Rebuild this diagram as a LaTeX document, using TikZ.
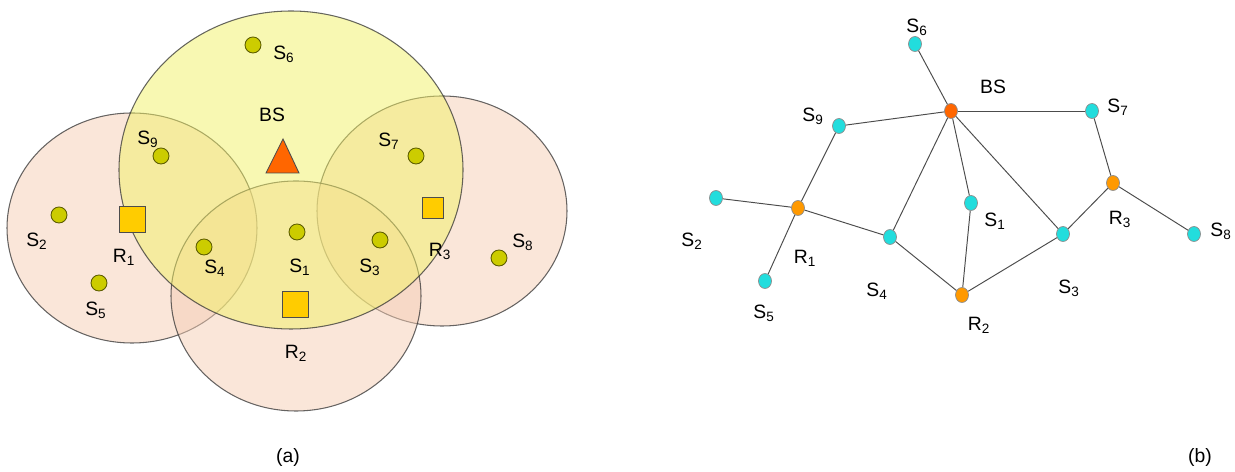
\documentclass[tikz,border=0pt]{standalone}
\usepackage{fontspec}
\setmainfont{Liberation Sans}
\usetikzlibrary{shapes.geometric}
\definecolor{peach}{RGB}{245,205,180}
\definecolor{lemon}{RGB}{241,241,101}
\definecolor{olivedot}{RGB}{204,204,0}
\definecolor{gold}{RGB}{255,204,0}
\definecolor{bsorange}{RGB}{255,102,0}
\definecolor{relayorange}{RGB}{255,153,0}
\definecolor{sensorcyan}{RGB}{34,221,221}
\tikzset{
    zone/.style={draw=black!80, line width=0.6pt, fill opacity=0.5, draw opacity=0.75},
    sdot/.style={circle, draw=black!55!olivedot, fill=olivedot, minimum size=0.32cm, inner sep=0pt, line width=0.5pt},
    rsq/.style={rectangle, draw=black!70, fill=gold, minimum size=#1, inner sep=0pt, line width=0.5pt},
    lbl/.style={font=\fontsize{11}{13}\selectfont, inner sep=0pt},
    snode/.style={ellipse, draw=black!45, fill=sensorcyan, minimum width=0.26cm, minimum height=0.3cm, inner sep=0pt, line width=0.4pt},
    rnode/.style={snode, fill=relayorange},
    bsnode/.style={snode, fill=bsorange},
    link/.style={draw=black!70, line width=0.55pt}
}
\newcommand{\nm}[2]{#1\textsubscript{#2}}

\begin{document}
\begin{tikzpicture}[x=0.02cm, y=-0.02cm]
    \useasboundingbox (0,0) rectangle (1235,472);

    % (a) coverage areas
    \draw[zone, fill=peach] (132,228) ellipse [x radius=125, y radius=115];
    \draw[zone, fill=peach] (442,211) ellipse [x radius=125, y radius=115];
    \draw[zone, fill=peach] (296,296) ellipse [x radius=125, y radius=115];
    \draw[zone, fill=lemon] (291,170) ellipse [x radius=172, y radius=159];

    \draw[fill=bsorange, draw=black!70, line width=0.5pt] (266,173) -- (283,139) -- (299,173) -- cycle;
    \node[lbl] (bsal) at (272,115) {BS};

    \node[rsq=0.52cm] (r1a) at (132,219) {};
    \node[rsq=0.52cm] (r2a) at (295,304) {};
    \node[rsq=0.42cm] (r3a) at (433,208) {};
    \node[lbl] (r1al) at (124,257) {\nm{R}{1}};
    \node[lbl] (r2al) at (296,353) {\nm{R}{2}};
    \node[lbl] (r3al) at (440,251) {\nm{R}{3}};

    \node[sdot] (s1a) at (297,232) {};
    \node[sdot] (s2a) at (59,215) {};
    \node[sdot] (s3a) at (380,240) {};
    \node[sdot] (s4a) at (204,247) {};
    \node[sdot] (s5a) at (99,283) {};
    \node[sdot] (s6a) at (253,45) {};
    \node[sdot] (s7a) at (416,156) {};
    \node[sdot] (s8a) at (499,258) {};
    \node[sdot] (s9a) at (161,156) {};
    \node[lbl] (s1al) at (300,267) {\nm{S}{1}};
    \node[lbl] (s2al) at (37,241) {\nm{S}{2}};
    \node[lbl] (s3al) at (370,267) {\nm{S}{3}};
    \node[lbl] (s4al) at (215,268) {\nm{S}{4}};
    \node[lbl] (s5al) at (96,310) {\nm{S}{5}};
    \node[lbl] (s6al) at (284,54) {\nm{S}{6}};
    \node[lbl] (s7al) at (389,141) {\nm{S}{7}};
    \node[lbl] (s8al) at (523,242) {\nm{S}{8}};
    \node[lbl] (s9al) at (148,139) {\nm{S}{9}};

    \node[lbl] (capa) at (288,458) {(a)};

    % (b) connectivity graph
    \node[bsnode] (bs) at (951,111) {};
    \node[rnode] (r1) at (798,208) {};
    \node[rnode] (r2) at (962,295) {};
    \node[rnode] (r3) at (1113,183) {};
    \node[snode] (s1) at (971,203) {};
    \node[snode] (s2) at (716,198) {};
    \node[snode] (s3) at (1063,234) {};
    \node[snode] (s4) at (890,237) {};
    \node[snode] (s5) at (765,281) {};
    \node[snode] (s6) at (915,44) {};
    \node[snode] (s7) at (1092,111) {};
    \node[snode] (s8) at (1194,234) {};
    \node[snode] (s9) at (839,126) {};

    \draw[link] (s6) -- (bs);
    \draw[link] (bs) -- (s7);
    \draw[link] (bs) -- (s9);
    \draw[link] (bs) -- (s4);
    \draw[link] (bs) -- (s1);
    \draw[link] (bs) -- (s3);
    \draw[link] (s9) -- (r1);
    \draw[link] (s2) -- (r1);
    \draw[link] (r1) -- (s5);
    \draw[link] (r1) -- (s4);
    \draw[link] (s4) -- (r2);
    \draw[link] (s1) -- (r2);
    \draw[link] (r2) -- (s3);
    \draw[link] (s3) -- (r3);
    \draw[link] (r3) -- (s7);
    \draw[link] (r3) -- (s8);

    \node[lbl] (bsl) at (993,87) {BS};
    \node[lbl] (r1l) at (805,258) {\nm{R}{1}};
    \node[lbl] (r2l) at (979,325) {\nm{R}{2}};
    \node[lbl] (r3l) at (1120,219) {\nm{R}{3}};
    \node[lbl] (s1l) at (995,221) {\nm{S}{1}};
    \node[lbl] (s2l) at (692,241) {\nm{S}{2}};
    \node[lbl] (s3l) at (1069,288) {\nm{S}{3}};
    \node[lbl] (s4l) at (877,291) {\nm{S}{4}};
    \node[lbl] (s5l) at (764,313) {\nm{S}{5}};
    \node[lbl] (s6l) at (917,27) {\nm{S}{6}};
    \node[lbl] (s7l) at (1118,107) {\nm{S}{7}};
    \node[lbl] (s8l) at (1221,231) {\nm{S}{8}};
    \node[lbl] (s9l) at (813,116) {\nm{S}{9}};

    \node[lbl] (capb) at (1200,458) {(b)};
\end{tikzpicture}
\end{document}
